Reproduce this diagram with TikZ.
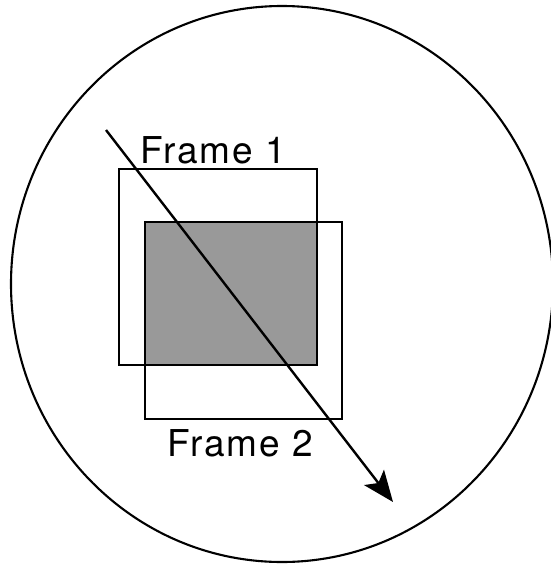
\documentclass[tikz,border=0pt]{standalone}
\usepackage{fontspec}
\setmainfont{TeX Gyre Heros}
\newfontfamily\lblfont[LetterSpace=5]{TeX Gyre Heros}
\usetikzlibrary{arrows.meta}
\begin{document}
\begin{tikzpicture}[x=1pt,y=-1pt,
  framebox/.style={draw=black,line width=2.7pt},
  lbl/.style={inner sep=0pt,anchor=base west,font=\lblfont\fontsize{37}{40}\selectfont},
  motion/.style={line width=2.4pt,-{Stealth[length=31pt,width=25pt,inset=7pt]}}]
\useasboundingbox (0,0) rectangle (551,565);
\clip (0,0) rectangle (551,565);
\draw[line width=2.1pt] (282,284) ellipse [x radius=271, y radius=278];
\fill[black!40] (145,222) rectangle (317,365);
\draw[framebox] (119,169) rectangle (317,365);
\draw[framebox] (145,222) rectangle (342,419);
\node[lbl] (f1) at (140,163.3) {Frame 1};
\node[lbl] (f2) at (167,456) {Frame 2};
\coordinate (s) at (106,130);
\coordinate (e) at (393,502);
\draw[motion] (s) -- (e);
\end{tikzpicture}
\end{document}
